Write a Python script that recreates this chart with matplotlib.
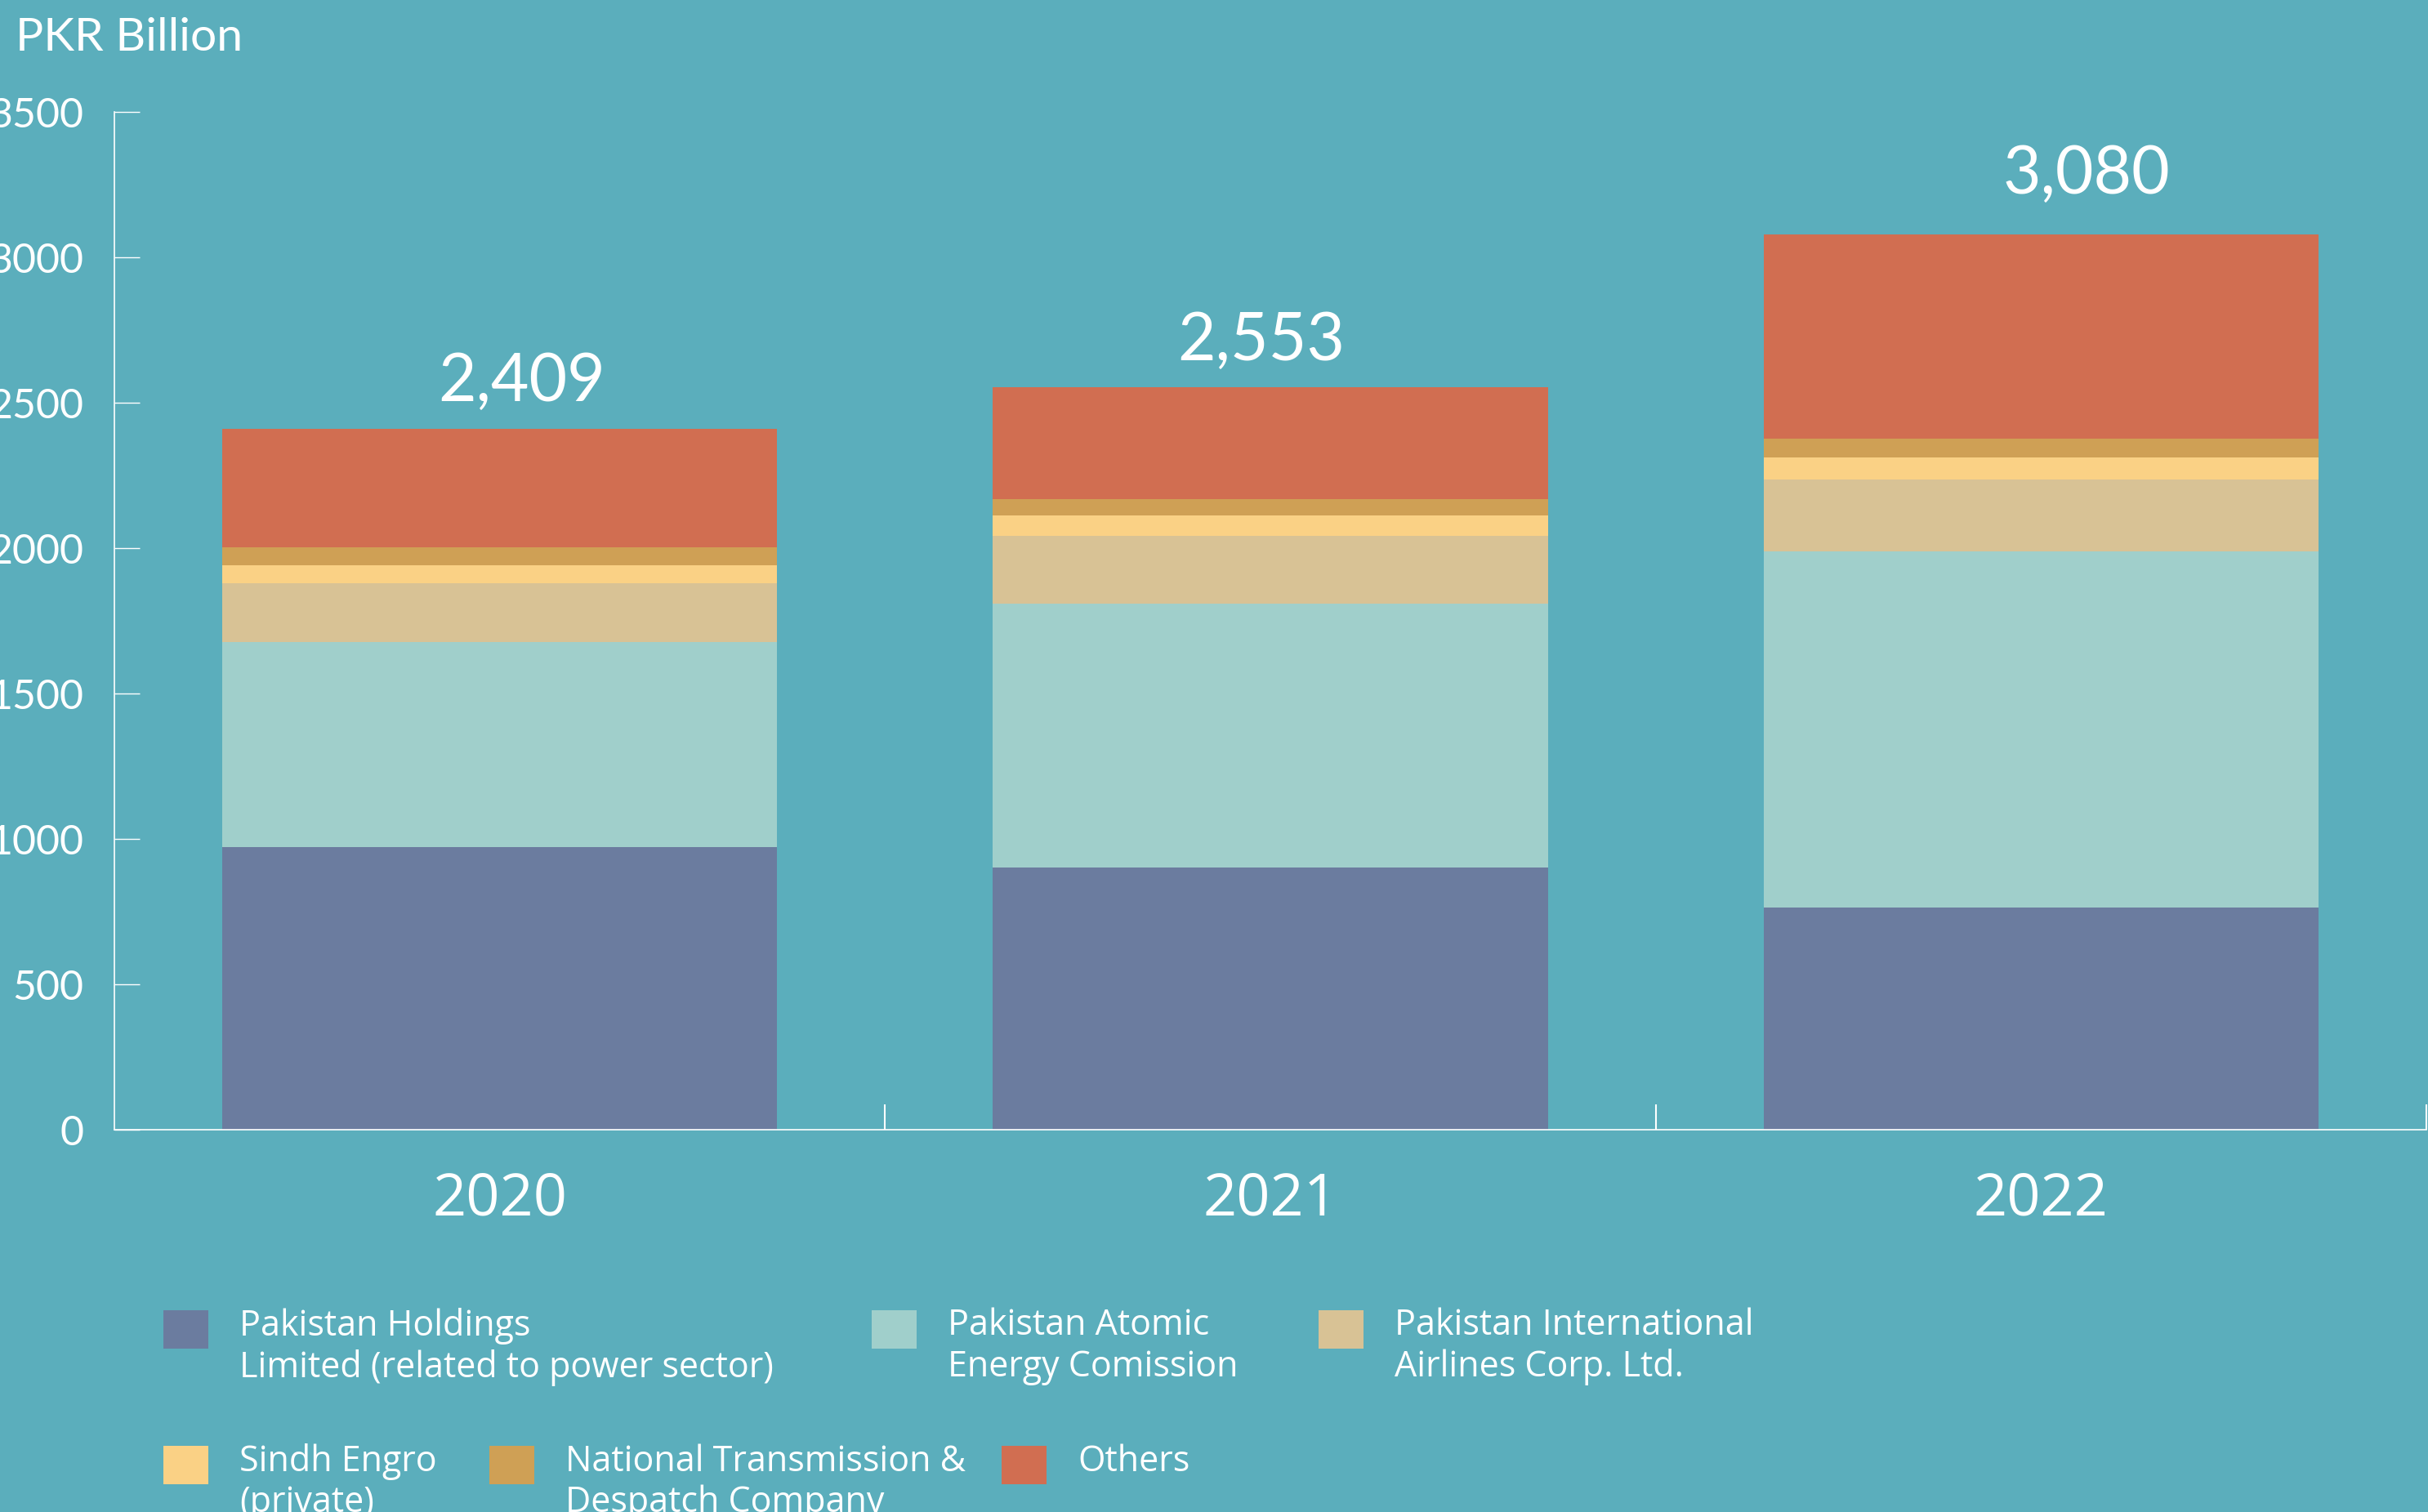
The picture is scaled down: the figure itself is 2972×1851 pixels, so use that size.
import matplotlib
matplotlib.use("Agg")
import matplotlib.pyplot as plt
from matplotlib.patches import Rectangle
import numpy as np

# data (PKR Billion)
years = ["2020", "2021", "2022"]
totals = [2409, 2553, 3080]
series_names = [
    "Pakistan Holdings\nLimited (related to power sector)",
    "Pakistan Atomic\nEnergy Comission",
    "Pakistan International\nAirlines Corp. Ltd.",
    "Sindh Engro\n(private)",
    "National Transmission &\nDespatch Company",
    "Others",
]
phl = [973, 901, 763]
paec = [705, 908, 1226]
pia = [200, 232, 247]
sindh = [64, 71, 77]
ntdc = [60, 57, 63]
others = [407, 384, 704]

colors = ["#6B7C9F", "#A0CFCB", "#D8C295", "#FAD185", "#CFA055", "#D16E51"]
bg = "#5BAEBC"

W, H, DPI = 2972, 1851, 100
fig = plt.figure(figsize=(W / DPI, H / DPI), dpi=DPI, facecolor=bg)

# axes placed in pixel terms
x0, x1, y0, y1 = 140, 2970, 1383, 137
ax = fig.add_axes([x0 / W, 1 - y0 / H, (x1 - x0) / W, (y0 - y1) / H])
ax.set_facecolor(bg)

x = np.arange(len(years))
bottom = np.zeros(len(years))
for vals, col in zip([phl, paec, pia, sindh, ntdc, others], colors):
    ax.bar(x, vals, width=0.72, bottom=bottom, color=col, linewidth=0)
    bottom += np.array(vals)

ax.set_xlim(-0.5, 2.5)
ax.set_ylim(0, 3500)

for s in ["top", "right"]:
    ax.spines[s].set_visible(False)
for s in ["left", "bottom"]:
    ax.spines[s].set_color("white")
    ax.spines[s].set_linewidth(1.2)

ax.set_yticks(range(0, 3501, 500))
ax.tick_params(axis="y", direction="in", length=22, width=1, colors="white",
               labelsize=36, pad=27)
for lab in ax.get_yticklabels():
    lab.set_fontfamily("Lato")

ax.set_xticks(x)
ax.set_xticklabels(years, fontsize=52, fontfamily="Open Sans", color="white")
ax.tick_params(axis="x", length=0, pad=36)
ax.set_xticks([0.5, 1.5, 2.5], minor=True)
ax.tick_params(axis="x", which="minor", direction="in", length=22, width=1.5,
               colors="white")

# total labels above the bars
label_dx = [0.029, -0.012, 0.059]
label_dy = [25, 24, 36]
for i, t in enumerate(totals):
    ax.annotate(f"{t:,}", (x[i] + label_dx[i], t), xytext=(0, label_dy[i]),
                textcoords="offset points", ha="center", va="baseline",
                fontsize=58, fontfamily="Lato", color="white")

fig.text(19 / W, 1 - 62 / H, "PKR Billion", fontsize=41, fontfamily="Lato",
         color="white", va="baseline", ha="left")

# legend laid out by hand like the original
leg_pos = [(200, 1604), (1067, 1604), (1614, 1604),
           (200, 1770), (599, 1770), (1226, 1770)]
for (px, py), name, col in zip(leg_pos, series_names, colors):
    fig.add_artist(Rectangle((px / W, 1 - (py + 47) / H), 55 / W, 47 / H,
                             transform=fig.transFigure, color=col, lw=0))
    fig.text((px + 93) / W, 1 - (py - 3) / H, name, fontsize=31,
             fontfamily="Open Sans", color="white", va="top", ha="left",
             linespacing=1.17)

fig.savefig("out.png", dpi=DPI, facecolor=bg)
